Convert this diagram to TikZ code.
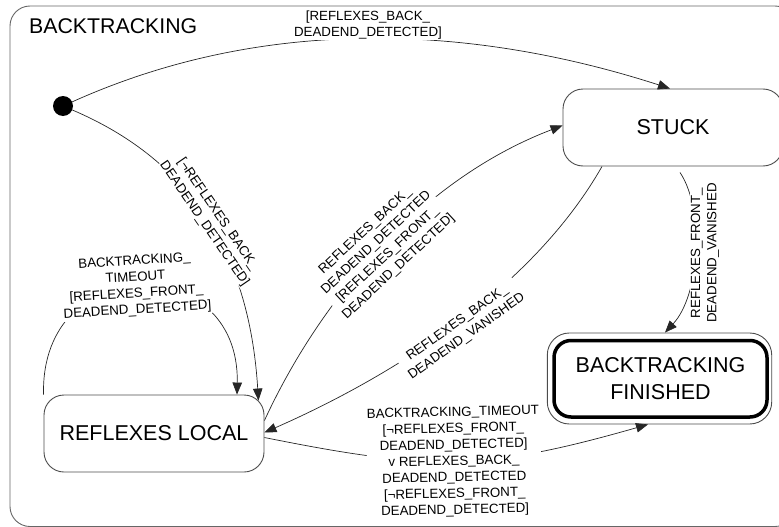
\documentclass[tikz,border=0pt]{standalone}
\usepackage{fontspec}
\setmainfont{Liberation Sans}
\usetikzlibrary{arrows.meta}
\begin{document}
\begin{tikzpicture}[x=1pt,y=-1pt,
  state/.style={draw=black!70, line width=0.9pt, rounded corners=20pt,
    minimum width=220pt, minimum height=77pt, inner sep=0pt,
    font=\fontsize{21.5}{27}\selectfont, align=center},
  trans/.style={draw=black!85, line width=0.7pt, -{Triangle[length=12pt,width=9.5pt]}},
  guard/.style={fill=white, inner sep=1pt, align=center,
    font=\fontsize{13.3}{16.3}\selectfont},
]
\useasboundingbox (0,0) rectangle (779,527);
% enclosing composite state
\draw[black!60, line width=0.9pt, rounded corners=20pt] (10,6) rectangle (795,526.5);
\node[anchor=west, inner sep=0pt, font=\fontsize{21.3}{26}\selectfont] (title) at (29,26.5) {BACKTRACKING};

% states
\node[circle, fill=black, minimum size=20pt, inner sep=0pt] (init) at (63,106) {};
\node[state] (stuck) at (673,127.5) {STUCK};
\node[state] (local) at (154,433.5) {REFLEXES LOCAL};
\node[state, minimum width=224.4pt, minimum height=91pt, rounded corners=22pt] (finished) at (659.5,378.5) {};
\node[state, draw=black, line width=3.5pt, minimum width=213pt, minimum height=76.5pt, rounded corners=17pt] (finishedin) at (660.5,378.75) {BACKTRACKING\\FINISHED};

% transitions
\draw[trans] (init) .. controls (263,16) and (470,24) .. ([xshift=-3pt]stuck.north);
\draw[trans] (init) .. controls (185,158) and (249,247) .. ([shift={(-6pt,-6pt)}]local.north east);
\draw[trans] (local.north west) .. controls (40,250) and (240,250) .. ([xshift=83pt]local.north);
\draw[trans] ([yshift=13pt]local.east) .. controls (320,300) and (420,180) .. ([yshift=2pt]stuck.west);
\draw[trans] ([xshift=-71pt]stuck.south) .. controls (527,298) and (375,384) .. ([yshift=1pt]local.east);
\draw[trans] ([shift={(7pt,-6pt)}]stuck.south) .. controls (705,210) and (700,295) .. ([xshift=5.5pt]finished.north);
\draw[trans] ([yshift=-4pt]local.east) .. controls (431,471) and (485,471) .. ([xshift=-11.5pt]finished.south);

% guards
\node[guard] (g1) at (368,25) {[REFLEXES\_BACK\_\\DEADEND\_DETECTED]};
\node[guard, rotate=-55.5] (g2) at (211,219) {[¬REFLEXES\_BACK\_\\DEADEND\_DETECTED]};
\node[guard, rotate=3.5] (g3) at (136,286) {BACKTRACKING\_\\TIMEOUT\\{[}REFLEXES\_FRONT\_\\DEADEND\_DETECTED]};
\node[guard, rotate=43] (g4) at (382,249) {REFLEXES\_BACK\_\\DEADEND\_DETECTED\\{[}REFLEXES\_FRONT\_\\DEADEND\_DETECTED]};
\node[guard, rotate=35.4] (g5) at (462,330) {REFLEXES\_BACK\_\\DEADEND\_VANISHED};
\node[guard, rotate=90] (g6) at (705,253) {REFLEXES\_FRONT\_\\DEADEND\_VANISHED};
\node[guard, rotate=1.3] (g7) at (454,462) {BACKTRACKING\_TIMEOUT\\{[}¬REFLEXES\_FRONT\_\\DEADEND\_DETECTED]\\v REFLEXES\_BACK\_\\DEADEND\_DETECTED\\{[}¬REFLEXES\_FRONT\_\\DEADEND\_DETECTED]};
\end{tikzpicture}
\end{document}
